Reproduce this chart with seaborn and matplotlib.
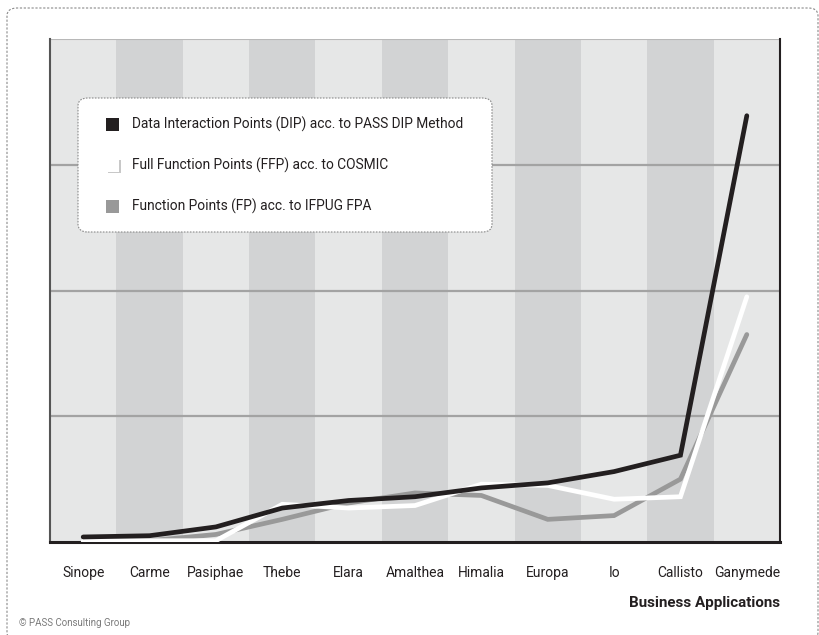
import matplotlib
matplotlib.use("Agg")
import matplotlib.pyplot as plt
from matplotlib.patches import FancyBboxPatch, Rectangle
import seaborn as sns
import pandas as pd

categories = ["Sinope", "Carme", "Pasiphae", "Thebe", "Elara", "Amalthea",
              "Himalia", "Europa", "Io", "Callisto", "Ganymede"]
dip = [0.04, 0.05, 0.12, 0.27, 0.33, 0.36, 0.43, 0.47, 0.56, 0.69, 3.39]
ffp = [0.01, 0.01, 0.01, 0.30, 0.27, 0.29, 0.46, 0.45, 0.34, 0.36, 1.95]
fp = [0.01, 0.01, 0.06, 0.18, 0.31, 0.39, 0.37, 0.18, 0.21, 0.50, 1.65]
series_names = ["Data Interaction Points (DIP) acc. to PASS DIP Method",
                "Full Function Points (FFP) acc. to COSMIC",
                "Function Points (FP) acc. to IFPUG FPA"]
x_title = "Business Applications"
credit = "\u00a9 PASS Consulting Group"

sns.set_theme(style="white")
plt.rcParams["font.family"] = ["Roboto", "DejaVu Sans"]

W, H = 819, 635
fig = plt.figure(figsize=(W / 100, H / 100), dpi=100)
fig.patch.set_facecolor("white")

# outer dashed rounded border
border = FancyBboxPatch((7 / W, (H - 640) / H), (818 - 7) / W, (640 - 8) / H,
                        boxstyle="round,pad=0,rounding_size=0.012",
                        transform=fig.transFigure, fill=False,
                        edgecolor="#8a8a8a", linewidth=0.8, linestyle=(0, (2, 1.5)),
                        clip_on=False)
fig.patches.append(border)

ax = fig.add_axes([50 / W, (H - 542) / H, (780 - 50) / W, (542 - 39) / H])

# alternating bands
for i in range(len(categories)):
    ax.axvspan(i - 0.5, i + 0.5, color="#e6e7e7" if i % 2 == 0 else "#d2d3d4",
               zorder=0, linewidth=0)

for yv in [1, 2, 3]:
    ax.axhline(yv, color="#a3a3a3", linewidth=1.6, zorder=1)
ax.axhline(4, color="#b8b8b8", linewidth=1.5, zorder=1)

df = pd.DataFrame({
    "cat": categories * 3,
    "val": fp + ffp + dip,
    "series": [series_names[2]] * 11 + [series_names[1]] * 11 + [series_names[0]] * 11,
})
df["x"] = list(range(11)) * 3

colors = {series_names[0]: "#231f20", series_names[1]: "#ffffff", series_names[2]: "#999999"}
for name, z in [(series_names[2], 3), (series_names[1], 4), (series_names[0], 5)]:
    sub = df[df["series"] == name]
    sns.lineplot(data=sub, x="x", y="val", ax=ax, color=colors[name],
                 linewidth=3.4, zorder=z, legend=False, solid_capstyle="round",
                 solid_joinstyle="miter", sort=False)

ax.set_xlim(-0.5, 10.5)
ax.set_ylim(0, 4)
ax.set_xticks(range(11))
ax.set_xticklabels(categories, fontsize=10, color="#231f20")
ax.set_yticks([])
ax.set_xlabel("")
ax.set_ylabel("")
ax.tick_params(axis="x", length=0, pad=17)

ax.spines["top"].set_visible(False)
ax.spines["left"].set_color("#555555")
ax.spines["left"].set_linewidth(1.5)
ax.spines["bottom"].set_color("#231f20")
ax.spines["bottom"].set_linewidth(2.2)
ax.spines["right"].set_color("#231f20")
ax.spines["right"].set_linewidth(1.5)

# legend box
lb = FancyBboxPatch((78 / W, (H - 232) / H), (492 - 78) / W, (232 - 98) / H,
                    boxstyle="round,pad=0,rounding_size=0.012",
                    transform=fig.transFigure, facecolor="white",
                    edgecolor="#8a8a8a", linewidth=0.8, linestyle=(0, (1.5, 1.2)),
                    zorder=10)
fig.patches.append(lb)
rows = [124, 165, 206]
sq_cols = ["#231f20", "#ffffff", "#999999"]
for r, c, name in zip(rows, sq_cols, series_names):
    if c == "#ffffff":
        fig.patches.append(Rectangle((107.5 / W, (H - r - 8) / H), 13 / W, 13 / H,
                                     transform=fig.transFigure, facecolor="#c8c8c8",
                                     edgecolor="none", zorder=10.5))
    fig.patches.append(Rectangle((106 / W, (H - r - 6.5) / H), 13 / W, 13 / H,
                                 transform=fig.transFigure, facecolor=c,
                                 edgecolor="none", zorder=11))
    fig.text(132 / W, (H - r) / H, name, fontsize=9.9, color="#231f20",
             va="center", ha="left", zorder=12)

fig.text(780 / W, (H - 603) / H, x_title, fontsize=10.9, fontweight="bold",
         color="#231f20", ha="right", va="center")
fig.text(19 / W, (H - 623) / H, credit, fontsize=7, color="#7a7a7a",
         ha="left", va="center")

fig.savefig("out.png", dpi=100, facecolor="white")
